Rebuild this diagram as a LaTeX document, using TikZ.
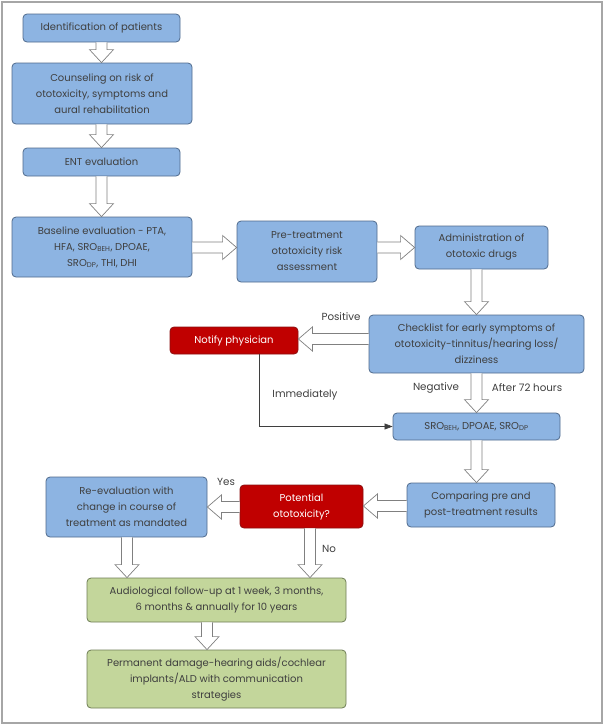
\documentclass[tikz,border=0pt]{standalone}
\usepackage{fontspec}
\setmainfont{Poppins}
\usetikzlibrary{arrows.meta,calc}
\definecolor{bfill}{HTML}{8DB4E2}
\definecolor{bdraw}{HTML}{4F6A8C}
\definecolor{rfill}{HTML}{C00000}
\definecolor{rdraw}{HTML}{8C1010}
\definecolor{gfill}{HTML}{C3D69B}
\definecolor{gdraw}{HTML}{6E7D55}
\definecolor{txt}{HTML}{3F3F3F}
\definecolor{agray}{HTML}{808080}
\definecolor{framegray}{HTML}{A6A6A6}
\newcommand\blkdown[3]{%
  \draw[blk] let \p1=(#2.south), \p2=(#3.north), \p3=(#1,0) in
    (\x3-5.5pt,\y1) -- (\x3-5.5pt,\y2+13pt) -- (\x3-12pt,\y2+13pt) -- (\x3,\y2)
    -- (\x3+12pt,\y2+13pt) -- (\x3+5.5pt,\y2+13pt) -- (\x3+5.5pt,\y1);}
\newcommand\blkright[3]{%
  \draw[blk] let \p1=(#2.east), \p2=(#3.west), \p3=(0,#1) in
    (\x1,\y3+5.5pt) -- (\x2-14pt,\y3+5.5pt) -- (\x2-14pt,\y3+12pt) -- (\x2,\y3)
    -- (\x2-14pt,\y3-12pt) -- (\x2-14pt,\y3-5.5pt) -- (\x1,\y3-5.5pt);}
\newcommand\blkleft[3]{%
  \draw[blk] let \p1=(#2.west), \p2=(#3.east), \p3=(0,#1) in
    (\x1,\y3+5.5pt) -- (\x2+14pt,\y3+5.5pt) -- (\x2+14pt,\y3+12pt) -- (\x2,\y3)
    -- (\x2+14pt,\y3-12pt) -- (\x2+14pt,\y3-5.5pt) -- (\x1,\y3-5.5pt);}
\tikzset{
  box/.style={draw=bdraw, fill=bfill, rounded corners=4pt, line width=0.8pt,
    align=center, inner sep=0pt, text=txt, font=\fontsize{10}{16}\selectfont},
  bluebox/.style={box},
  redbox/.style={box, draw=rdraw, fill=rfill, text=white},
  greenbox/.style={box, draw=gdraw, fill=gfill},
  blk/.style={draw=agray, fill=white, line width=0.7pt, line join=miter},
  lbl/.style={text=txt, font=\fontsize{10.3}{12}\selectfont, inner sep=0pt},
  thinline/.style={draw=txt, line width=0.6pt, -{Triangle[length=8pt,width=6pt]}},
}
\begin{document}
\begin{tikzpicture}[x=1pt,y=-1pt]
\useasboundingbox (0,0) rectangle (603,724);
\draw[framegray, line width=2pt] (1.5,1.5) rectangle (601.5,722.5);

\node[bluebox, minimum width=157pt, minimum height=28pt] (idf) at (101.5,28) {Identification of patients};
\node[bluebox, minimum width=180pt, minimum height=61pt] (couns) at (102,93.5) {Counseling on risk of\\ototoxicity, symptoms and\\aural rehabilitation};
\node[bluebox, minimum width=157pt, minimum height=28pt] (ent) at (101.5,162) {ENT evaluation};
\node[bluebox, minimum width=180pt, minimum height=60pt] (base) at (102,247) {Baseline evaluation - PTA,\\HFA, SRO\textsubscript{BEH}, DPOAE,\\SRO\textsubscript{DP}, THI, DHI};
\node[bluebox, minimum width=140pt, minimum height=61pt] (pre) at (307,251.5) {Pre-treatment\\ototoxicity risk\\assessment};
\node[bluebox, minimum width=133pt, minimum height=43pt] (admin) at (481.5,247.5) {Administration of\\ototoxic drugs};
\node[bluebox, minimum width=215pt, minimum height=58pt] (check) at (476.5,344) {Checklist for early symptoms of\\ototoxicity-tinnitus/hearing loss/\\dizziness};
\node[redbox, minimum width=128pt, minimum height=27pt] (notify) at (234,340.5) {Notify physician};
\node[bluebox, minimum width=167pt, minimum height=27pt] (sro) at (476.5,426.5) {SRO\textsubscript{BEH}, DPOAE, SRO\textsubscript{DP}};
\node[bluebox, minimum width=148pt, minimum height=44pt] (comp) at (481,505) {Comparing pre and\\post-treatment results};
\node[redbox, minimum width=123pt, minimum height=43pt] (pot) at (301.5,506.5) {Potential\\ototoxicity?};
\node[bluebox, minimum width=161pt, minimum height=60pt] (reeval) at (126.5,507) {Re-evaluation with\\change in course of\\treatment as mandated};
\node[greenbox, minimum width=259pt, minimum height=44pt] (aud) at (216.5,600) {Audiological follow-up at 1 week, 3 months,\\6 months \& annually for 10 years};
\node[greenbox, minimum width=259pt, minimum height=58pt] (perm) at (216.5,679) {Permanent damage-hearing aids/cochlear\\implants/ALD with communication\\strategies};

\blkdown{101.5}{idf}{couns}
\blkdown{101.5}{couns}{ent}
\blkdown{101.5}{ent}{base}
\blkright{247.5}{base}{pre}
\blkright{247.5}{pre}{admin}
\blkdown{476.5}{admin}{check}
\blkleft{339}{check}{notify}
\blkdown{476.5}{check}{sro}
\blkdown{476.5}{sro}{comp}
\blkleft{506}{comp}{pot}
\blkleft{507}{pot}{reeval}
\blkdown{127}{reeval}{aud}
\blkdown{310}{pot}{aud}
\blkdown{207}{aud}{perm}

\draw[thinline] ($(notify.south)+(25,0)$) |- (sro.west);

\node[lbl] (lpos) at (341,317) {Positive};
\node[lbl] (limm) at (305,395) {Immediately};
\node[lbl] (lneg) at (436,388) {Negative};
\node[lbl] (l72) at (527,388) {After 72 hours};
\node[lbl] (lyes) at (226,482) {Yes};
\node[lbl] (lno) at (329,549) {No};
\end{tikzpicture}
\end{document}
